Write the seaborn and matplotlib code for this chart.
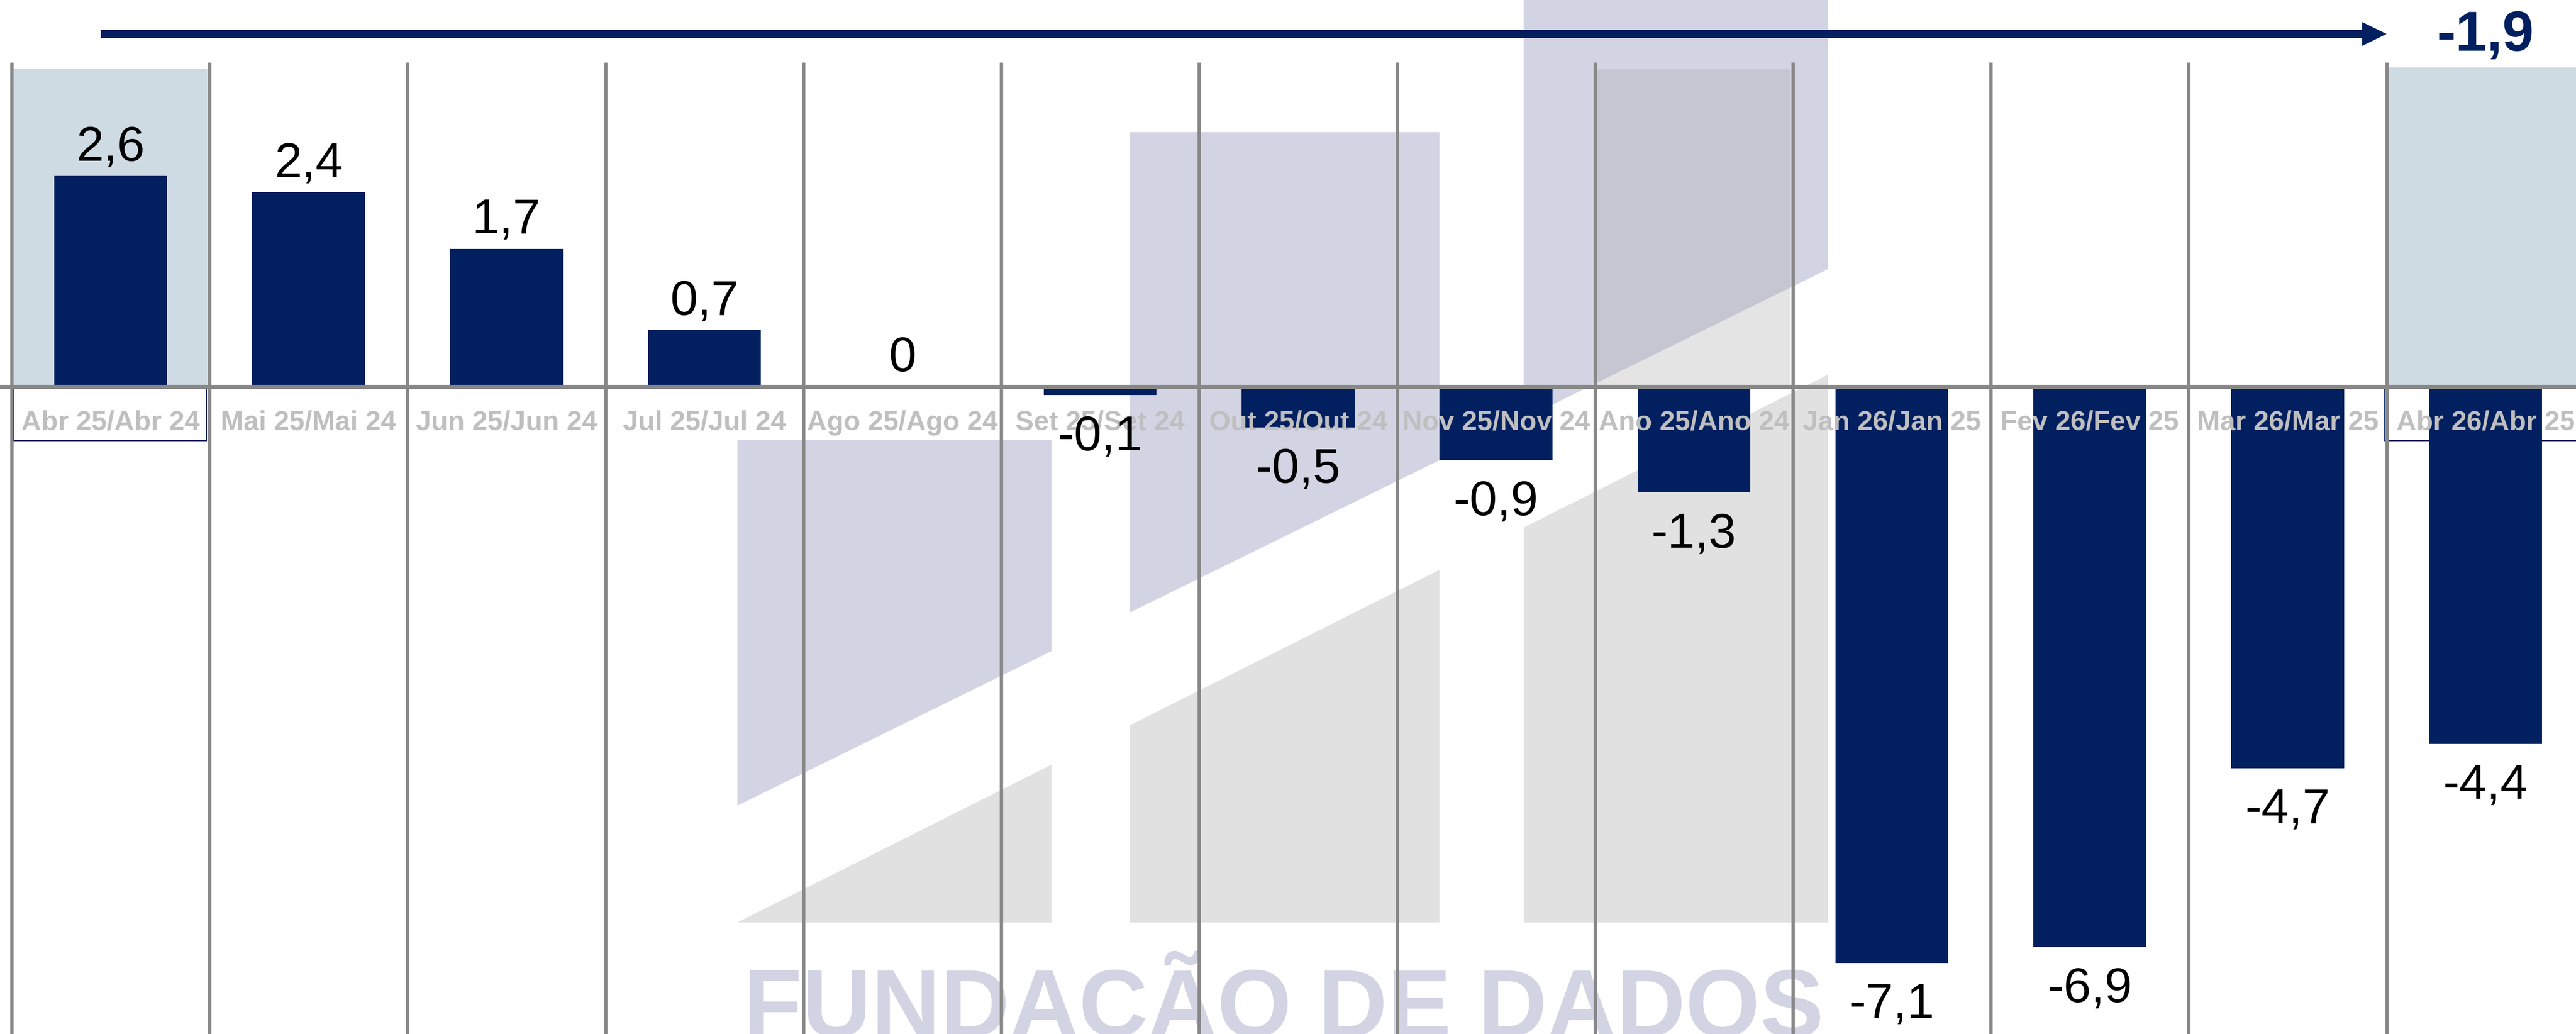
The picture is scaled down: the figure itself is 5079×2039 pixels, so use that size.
import matplotlib
matplotlib.use("Agg")
import matplotlib.pyplot as plt
import matplotlib.patches as mpatches
import numpy as np
import seaborn as sns

# --- dados do gráfico ---
categorias = ["Abr 25/Abr 24", "Mai 25/Mai 24", "Jun 25/Jun 24", "Jul 25/Jul 24",
              "Ago 25/Ago 24", "Set 25/Set 24", "Out 25/Out 24", "Nov 25/Nov 24",
              "Ano 25/Ano 24", "Jan 26/Jan 25", "Fev 26/Fev 25", "Mar 26/Mar 25",
              "Abr 26/Abr 25"]
valores = [2.6, 2.4, 1.7, 0.7, 0, -0.1, -0.5, -0.9, -1.3, -7.1, -6.9, -4.7, -4.4]
acumulado = "-1,9"
marca_dagua = "FUNDAÇÃO DE DADOS"

# cores
azul = "#022060"
cinza_linha = "#878787"
cinza_rotulo = "#BFBFBF"
lavanda = "#D2D4E3"
cinza_marca = "#E1E1E1"
azul_claro = "#CFDBE3"

sns.set_style("white")
plt.rcParams['font.family'] = ['Liberation Sans', 'DejaVu Sans']

fig = plt.figure(figsize=(50.79, 20.40), dpi=100)
ax = fig.add_axes([0, 0, 1, 1])

# marca d'água (logo) ao fundo
colunas_logo = [(3.167, 4.754, -0.65), (5.151, 6.714, 3.14), (7.14, 8.677, 5.0)]
base_logo = -6.6

def diag_sup(x):
    return -5.16 + 1.2 * (x - 3.167)

def diag_inf(x):
    return -6.6 + 1.225 * (x - 3.167)

for x0, x1, topo in colunas_logo:
    ax.add_patch(mpatches.Polygon([(x0, topo), (x1, topo), (x1, diag_sup(x1)), (x0, diag_sup(x0))],
                                  closed=True, facecolor=lavanda, edgecolor='none', zorder=0.5))
    ax.add_patch(mpatches.Polygon([(x0, diag_inf(x0)), (x1, diag_inf(x1)), (x1, base_logo), (x0, base_logo)],
                                  closed=True, facecolor=cinza_marca, edgecolor='none', zorder=0.5))

ax.text(3.198, -8.0, marca_dagua, ha='left', va='baseline', fontsize=136,
        fontweight='bold', color=lavanda, zorder=0.6)

# destaques das colunas
ax.add_patch(mpatches.Rectangle((-0.49, 0), 0.98, 3.92, facecolor=azul_claro, edgecolor='none', zorder=1))
ax.add_patch(mpatches.Rectangle((11.51, 0), 1.2, 3.94, facecolor=azul_claro, edgecolor='none', zorder=1))
ax.add_patch(mpatches.Rectangle((7.51, 0), 0.98, 3.91, facecolor='#A5A5A5', alpha=0.29,
                                edgecolor='none', zorder=1))

# caixas dos rótulos destacados
ax.add_patch(mpatches.Rectangle((-0.49, -0.66), 0.975, 0.645, facecolor='white',
                                edgecolor=azul, lw=1.5, zorder=1.5))
ax.add_patch(mpatches.Rectangle((11.49, -0.66), 1.2, 0.645, facecolor='white',
                                edgecolor=azul, lw=1.5, zorder=1.5))

# linhas verticais separando as colunas
ax.vlines(np.arange(-0.5, 12.0, 1.0), ymin=-9, ymax=4.0, colors=cinza_linha, lw=4.75, zorder=2)

# barras
sns.barplot(x=categorias, y=valores, color=azul, saturation=1, width=0.57,
            linewidth=0, ax=ax, zorder=3)

ax.axhline(0, color=cinza_linha, lw=5.8, zorder=3.5)

# rótulos das categorias
for i, cat in enumerate(categorias):
    ax.text(i, -0.525, cat, ha='center', va='baseline', fontsize=39,
            fontweight='bold', color=cinza_rotulo, zorder=4)

# rótulos dos valores
for i, v in enumerate(valores):
    txt = "0" if v == 0 else f"{v:.1f}".replace('.', ',')
    if v >= 0:
        ax.annotate(txt, xy=(i, v), xytext=(0, 23), textcoords='offset points',
                    ha='center', va='baseline', fontsize=70, color='black', zorder=5)
    else:
        ax.annotate(txt, xy=(i, v), xytext=(0, -27), textcoords='offset points',
                    ha='center', va='top', fontsize=70, color='black', zorder=5)

# seta e valor acumulado
ax.annotate('', xy=(11.5, 4.35), xytext=(-0.05, 4.35),
            arrowprops=dict(arrowstyle='simple,head_length=0.87,head_width=0.85,tail_width=0.29',
                            mutation_scale=40, facecolor=azul, edgecolor='none',
                            shrinkA=0, shrinkB=0))
ax.text(12.0, 4.15, acumulado, ha='center', va='baseline', fontsize=80,
        fontweight='bold', color=azul)

ax.set_xlim(-0.559, 12.457)
ax.set_ylim(-7.975, 4.775)
ax.axis('off')

fig.savefig('out.png', dpi=100)
